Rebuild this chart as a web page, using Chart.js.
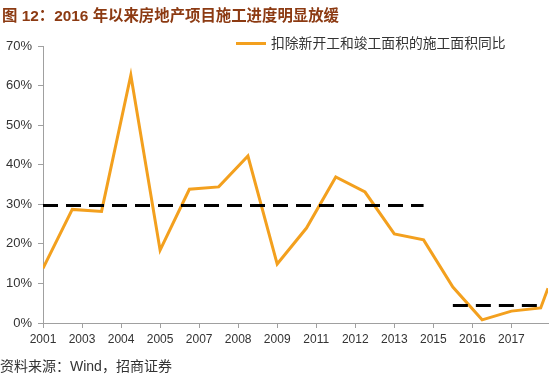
<!DOCTYPE html>
<html>
<head>
<meta charset="utf-8">
<script src="https://cdn.jsdelivr.net/npm/chart.js@4.4.1/dist/chart.umd.min.js"></script>
<style>
  html, body { margin: 0; padding: 0; background: #fff; }
  #wrap { position: relative; width: 550px; height: 375px; overflow: hidden;
          font-family: "Liberation Sans", "Noto Sans CJK SC", sans-serif; }
  #chart { position: absolute; left: 0; top: 0; }
  #title { position: absolute; left: 2px; top: 3px; font-size: 15.4px; font-weight: bold;
           color: #8C3A12; white-space: nowrap; }
  #legend { position: absolute; left: 236px; top: 35px; font-size: 13.8px; color: #333;
            white-space: nowrap; line-height: 18px; }
  #legend span { display: inline-block; width: 30px; height: 3px; background: #F3A01E;
                 vertical-align: middle; margin-right: 5px; position: relative; top: -1px; }
  #source { position: absolute; left: 0; top: 358px; font-size: 14px; line-height: 16px;
            color: #333; white-space: nowrap; }
</style>
</head>
<body>
<div id="wrap">
  <canvas id="chart" width="550" height="375"></canvas>
  <div id="title">图 12：2016 年以来房地产项目施工进度明显放缓</div>
  <div id="legend"><span></span>扣除新开工和竣工面积的施工面积同比</div>
  <div id="source">资料来源：Wind，招商证券</div>
</div>
<script>
// months counted from Dec 2001
var periodMonths = [0, 12, 24, 36, 48, 60, 72, 84, 96, 108, 120, 132, 144, 156, 168, 180, 192, 204, 207];
var yoyValues = [13.8, 28.7, 28.2, 62.6, 18.4, 33.8, 34.4, 42.2, 14.9, 24.0, 36.9, 33.1, 22.5, 21.0, 9.1, 0.8, 3.0, 3.8, 8.8];

var avgEarlyMonths = [0, 156];
var avgEarly = [29.7, 29.7];
var avgLateMonths = [168, 204];
var avgLate = [4.4, 4.4];

var tickMonths = [0, 16, 32, 48, 64, 80, 96, 112, 128, 144, 160, 176, 192];
var tickLabels = ['2001', '2003', '2004', '2005', '2007', '2008', '2009', '2011', '2012', '2013', '2015', '2016', '2017'];
var yTicks = [0, 10, 20, 30, 40, 50, 60, 70];

function toPoints(xs, ys) {
  var pts = [];
  for (var i = 0; i < xs.length; i++) {
    pts.push({x: xs[i], y: ys[i]});
  }
  return pts;
}

var axisColor = '#A0A0A0';
var labelFont = {family: '"Liberation Sans", "Noto Sans CJK SC", sans-serif', size: 13};

var chart = new Chart(document.getElementById('chart'), {
  type: 'line',
  data: {
    datasets: [{
      label: '扣除新开工和竣工面积的施工面积同比',
      data: toPoints(periodMonths, yoyValues),
      borderColor: '#F3A01E',
      borderWidth: 3,
      pointRadius: 0,
      tension: 0,
      order: 2
    }, {
      label: 'avg1',
      data: toPoints(avgEarlyMonths, avgEarly),
      borderColor: '#000',
      borderWidth: 3,
      borderDash: [15, 8],
      pointRadius: 0,
      order: 1
    }, {
      label: 'avg2',
      data: toPoints(avgLateMonths, avgLate),
      borderColor: '#000',
      borderWidth: 3,
      borderDash: [15, 8],
      pointRadius: 0,
      order: 1
    }]
  },
  options: {
    responsive: false,
    animation: false,
    devicePixelRatio: 1,
    layout: {padding: {top: 46, right: 2, bottom: 0, left: 0}},
    plugins: {
      legend: {display: false},
      tooltip: {enabled: false}
    },
    scales: {
      x: {
        type: 'linear',
        min: 0,
        max: 207,
        afterFit: function(scale) { scale.height = 52; },
        afterBuildTicks: function(scale) {
          scale.ticks = tickMonths.map(function(m) { return {value: m}; });
        },
        ticks: {
          autoSkip: false,
          maxRotation: 0,
          padding: 4,
          color: '#333',
          font: {family: labelFont.family, size: 12},
          callback: function(value, index) { return tickLabels[index]; }
        },
        grid: {drawOnChartArea: false, drawTicks: true, tickLength: 5, color: axisColor},
        border: {color: axisColor, width: 1}
      },
      y: {
        min: 0,
        max: 70,
        afterFit: function(scale) { scale.width = 43; },
        afterBuildTicks: function(scale) {
          scale.ticks = yTicks.map(function(v) { return {value: v}; });
        },
        ticks: {
          padding: 6,
          color: '#333',
          font: labelFont,
          callback: function(value) { return value + '%'; }
        },
        grid: {drawOnChartArea: false, drawTicks: true, tickLength: 5, color: axisColor},
        border: {color: axisColor, width: 1}
      }
    }
  }
});
</script>
</body>
</html>
